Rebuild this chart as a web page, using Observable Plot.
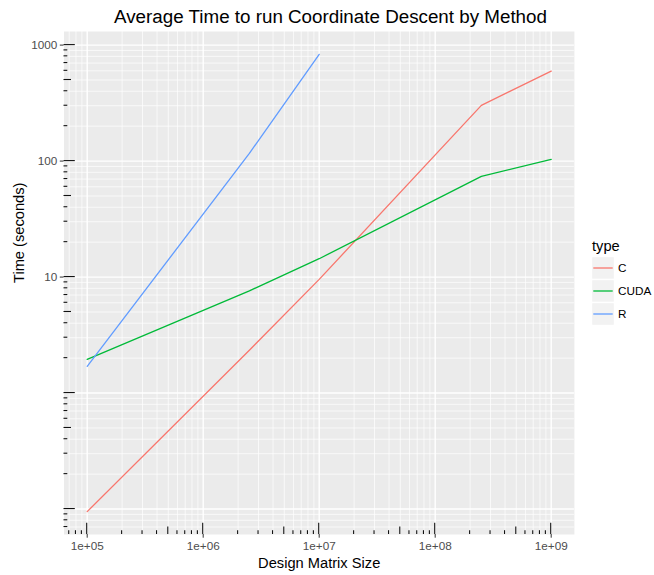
<!DOCTYPE html>
<html>
<head>
<meta charset="utf-8">
<script src="https://cdn.jsdelivr.net/npm/d3@7"></script>
<script src="https://cdn.jsdelivr.net/npm/@observablehq/plot@0.6"></script>
<style>
  body { margin: 0; background: #fff; }
  #wrap { position: relative; width: 654px; height: 575px; font-family: "Liberation Sans", Arial, sans-serif; }
  #wrap svg { display: block; }
  #legend { position: absolute; left: 574px; top: 230px; overflow: visible; }
</style>
</head>
<body>
<div id="wrap"></div>
<script>
// ---- data ----
const sizes = [1e5, 2.5e6, 1e7, 2.5e8, 1e9];
const types = ["C", "CUDA", "R"];
const timeC = [0.095, 2.34, 9.55, 302, 597];
const timeCUDA = [1.95, 7.6, 14.4, 73.8, 103.5];
const timeR = [1.70, 116.5, 832];
const typeColors = ["#F8766D", "#00BA38", "#619CFF"];
const xTickValues = [1e5, 1e6, 1e7, 1e8, 1e9];
const xTickLabels = ["1e+05", "1e+06", "1e+07", "1e+08", "1e+09"];
const yTickValues = [10, 100, 1000];
const yTickLabels = ["10", "100", "1000"];
const titleText = "Average Time to run Coordinate Descent by Method";
const xTitle = "Design Matrix Size";
const yTitle = "Time (seconds)";
const legendTitle = "type";

// ---- build table ----
const series = [timeC, timeCUDA, timeR];
const rows = [];
types.forEach((t, k) => series[k].forEach((v, i) => rows.push({type: t, size: sizes[i], time: v})));

// ggplot-like 5% expansion in log space
function expandLog(vals) {
  const e = d3.extent(vals, v => Math.log10(v));
  const p = (e[1] - e[0]) * 0.05;
  return [10 ** (e[0] - p), 10 ** (e[1] + p)];
}
const xDomain = expandLog(rows.map(d => d.size));
const yDomain = expandLog(rows.map(d => d.time));

function logGrid(domain) {
  const out = [];
  const k0 = Math.floor(Math.log10(domain[0])), k1 = Math.ceil(Math.log10(domain[1]));
  for (let k = k0; k <= k1; k++) for (let m = 1; m <= 9; m++) {
    const v = m * 10 ** k;
    if (v >= domain[0] && v <= domain[1]) out.push({v, m});
  }
  return out;
}
const xGrid = logGrid(xDomain);
const yGrid = logGrid(yDomain);

const W = 654, H = 575;
const mL = 63.5, mT = 31, mB = 41;
const frameW = 116 * Math.log10(xDomain[1] / xDomain[0]);
const mR = W - mL - frameW;
const fontFam = "'Liberation Sans', Arial, sans-serif";

function tickLen(m) { return m === 1 ? 11.3 : m === 5 ? 7.5 : 3.8; }

function logTicks(index, scales, values, dims) {
  const g = d3.create("svg:g").attr("stroke", "#111").attr("stroke-width", 1.1).attr("fill", "none");
  const bottom = dims.height - dims.marginBottom, left = dims.marginLeft;
  for (const {v, m} of xGrid) {
    const px = scales.x(v);
    g.append("line").attr("x1", px).attr("x2", px).attr("y1", bottom).attr("y2", bottom - tickLen(m));
  }
  for (const {v, m} of yGrid) {
    const py = scales.y(v);
    g.append("line").attr("y1", py).attr("y2", py).attr("x1", left).attr("x2", left + tickLen(m));
  }
  return g.node();
}

const chart = Plot.plot({
  width: W, height: H,
  marginLeft: mL, marginRight: mR, marginTop: mT, marginBottom: mB,
  style: {fontFamily: fontFam, background: "transparent", color: "#000", overflow: "visible"},
  x: {type: "log", domain: xDomain},
  y: {type: "log", domain: yDomain},
  color: {domain: types, range: typeColors},
  marks: [
    Plot.frame({fill: "#ebebeb", stroke: "none"}),
    Plot.ruleX(xGrid.filter(d => d.m !== 1), {x: "v", stroke: "#fff", strokeWidth: 0.7}),
    Plot.ruleY(yGrid.filter(d => d.m !== 1), {y: "v", stroke: "#fff", strokeWidth: 0.7}),
    Plot.ruleX(xGrid.filter(d => d.m === 1), {x: "v", stroke: "#fff", strokeWidth: 1.4}),
    Plot.ruleY(yGrid.filter(d => d.m === 1), {y: "v", stroke: "#fff", strokeWidth: 1.4}),
    Plot.line(rows, {x: "size", y: "time", stroke: "type", z: "type", strokeWidth: 1.3}),
    logTicks,
    Plot.axisX(xTickValues, {
      tickSize: 3.7, tickPadding: 3.5, stroke: "#333333", fill: "#4d4d4d",
      fontSize: 11.73, label: null,
      tickFormat: d => xTickLabels[xTickValues.indexOf(d)]
    }),
    Plot.axisY(yTickValues, {
      tickSize: 3.7, tickPadding: 3, stroke: "#333333", fill: "#4d4d4d",
      fontSize: 11.73, label: null,
      tickFormat: d => yTickLabels[yTickValues.indexOf(d)]
    }),
    Plot.text([titleText], {
      text: d => d, frameAnchor: "top", dx: 330 - (mL + frameW / 2), dy: 16.6 - mT,
      lineAnchor: "middle", fontSize: 18.8, fill: "#000"
    }),
    Plot.text([xTitle], {
      text: d => d, frameAnchor: "bottom", dy: 562.3 - (H - mB),
      lineAnchor: "middle", fontSize: 14.67, fill: "#000"
    }),
    Plot.text([yTitle], {
      text: d => d, frameAnchor: "left", dx: 19.1 - mL, rotate: -90,
      lineAnchor: "middle", fontSize: 14.67, fill: "#000"
    })
  ]
});

const wrap = document.getElementById("wrap");
wrap.appendChild(chart);

// ---- legend (ggplot-style) ----
const lg = d3.select(wrap).append("svg").attr("id", "legend")
  .attr("width", 80).attr("height", 110)
  .style("font-family", fontFam);
lg.append("text").attr("x", 18).attr("y", 21).attr("font-size", 14.67).attr("fill", "#000").text(legendTitle);
types.forEach((t, i) => {
  const y0 = 26.5 + i * 23;
  lg.append("rect").attr("x", 17.5).attr("y", y0).attr("width", 23).attr("height", 23)
    .attr("fill", "#f2f2f2").attr("stroke", "#fff").attr("stroke-width", 1.4);
  lg.append("line").attr("x1", 19.3).attr("x2", 38.7).attr("y1", y0 + 11.5).attr("y2", y0 + 11.5)
    .attr("stroke", typeColors[i]).attr("stroke-width", 1.3);
  lg.append("text").attr("x", 44).attr("y", y0 + 11.5 + 4.2).attr("font-size", 11.73).attr("fill", "#000").text(t);
});
</script>
</body>
</html>
